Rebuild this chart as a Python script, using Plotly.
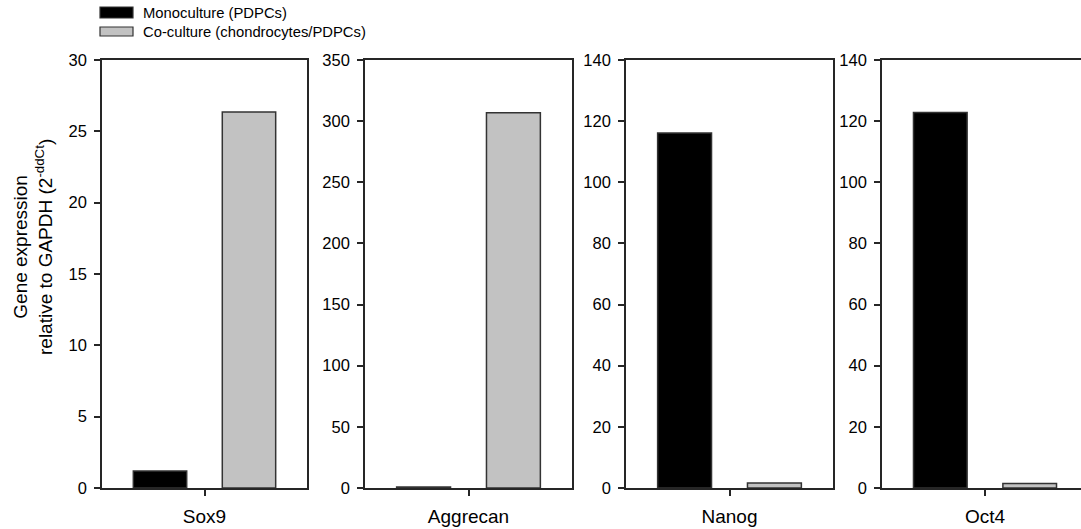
import plotly.graph_objects as go

genes = ["Sox9", "Aggrecan", "Nanog", "Oct4"]
mono = [1.2, 0.8, 116.1, 122.8]
coculture = [26.35, 306.8, 1.6, 1.5]
y_max = [30, 350, 140, 140]
y_dtick = [5, 50, 20, 20]
series_names = ["Monoculture (PDPCs)", "Co-culture (chondrocytes/PDPCs)"]
series_colors = ["#000000", "#c2c2c2"]

W, H = 1081, 529
FONT = "Liberation Sans, Arial, sans-serif"
LINE = "#262626"

# panel pixel extents (left, right); last panel cut at window edge
panels_px = [(102, 307), (365, 572), (626, 833), (882, 1081)]
panel_w = 206.0
y_dom = [(529 - 488) / H, (529 - 60) / H]

fig = go.Figure()
layout = dict(
    width=W, height=H, autosize=False,
    margin=dict(l=0, r=0, t=0, b=0, pad=0),
    paper_bgcolor="white", plot_bgcolor="white",
    barmode="group", bargap=0.132, bargroupgap=0.40,
    showlegend=False,
    font=dict(family=FONT, color="#000000"),
)

for i, g in enumerate(genes):
    n = "" if i == 0 else str(i + 1)
    xa, ya = "x" + n, "y" + n
    for s, vals in enumerate([mono, coculture]):
        fig.add_trace(go.Bar(
            x=[g], y=[vals[i]], name=series_names[s],
            marker=dict(color=series_colors[s], line=dict(color="#333333", width=1.5)),
            xaxis=xa, yaxis=ya, offsetgroup=str(s),
        ))
    l, r = panels_px[i]
    last = i == len(genes) - 1
    xr_hi = -0.5 + (r - l) / panel_w if last else 0.5
    layout["xaxis" + n] = dict(
        domain=[l / W, r / W], anchor=ya, type="category", automargin=False,
        range=[-0.5, xr_hi], showline=True, linecolor=LINE, linewidth=1.6,
        mirror=True, ticks="outside", ticklen=6, tickwidth=1.5, tickcolor=LINE,
        showgrid=False, zeroline=False, fixedrange=True,
        tickfont=dict(size=19, family=FONT, color="#000"), ticklabelstandoff=4,
    )
    layout["yaxis" + n] = dict(
        domain=y_dom, anchor=xa, range=[0, y_max[i]], dtick=y_dtick[i], automargin=False,
        showline=True, linecolor=LINE, linewidth=1.6, mirror=(not last),
        ticks="outside", ticklen=6, tickwidth=1.5, tickcolor=LINE,
        showgrid=False, zeroline=False, fixedrange=True,
        tickfont=dict(size=16.5, family=FONT, color="#000"), ticklabelstandoff=4,
    )

fig.update_layout(**layout)

# y-axis title
fig.add_annotation(
    text="Gene expression<br>relative to GAPDH (2<sup>-ddCt</sup>)",
    xref="paper", yref="paper", x=33 / W, y=(H - 247) / H,
    xanchor="center", yanchor="middle", textangle=-90, showarrow=False,
    font=dict(size=19, family=FONT, color="#000"),
)

# custom legend (wide rectangles like the reference)
leg_rows = [(7, 18, 13), (27, 36, 32)]
for s, (y0, y1, yc) in enumerate(leg_rows):
    fig.add_shape(type="rect", xref="paper", yref="paper",
                  x0=100 / W, x1=133 / W, y0=(H - y1) / H, y1=(H - y0) / H,
                  fillcolor=series_colors[s], line=dict(color="#333333", width=1.2))
    fig.add_annotation(text=series_names[s], xref="paper", yref="paper",
                       x=141 / W, y=(H - yc) / H, xanchor="left", yanchor="middle",
                       showarrow=False, font=dict(size=14.8, family=FONT, color="#000"))

fig.write_html(
    "out.html",
    config={"displayModeBar": False},
    post_script="document.body.style.margin='0';document.body.style.overflow='hidden';",
)
